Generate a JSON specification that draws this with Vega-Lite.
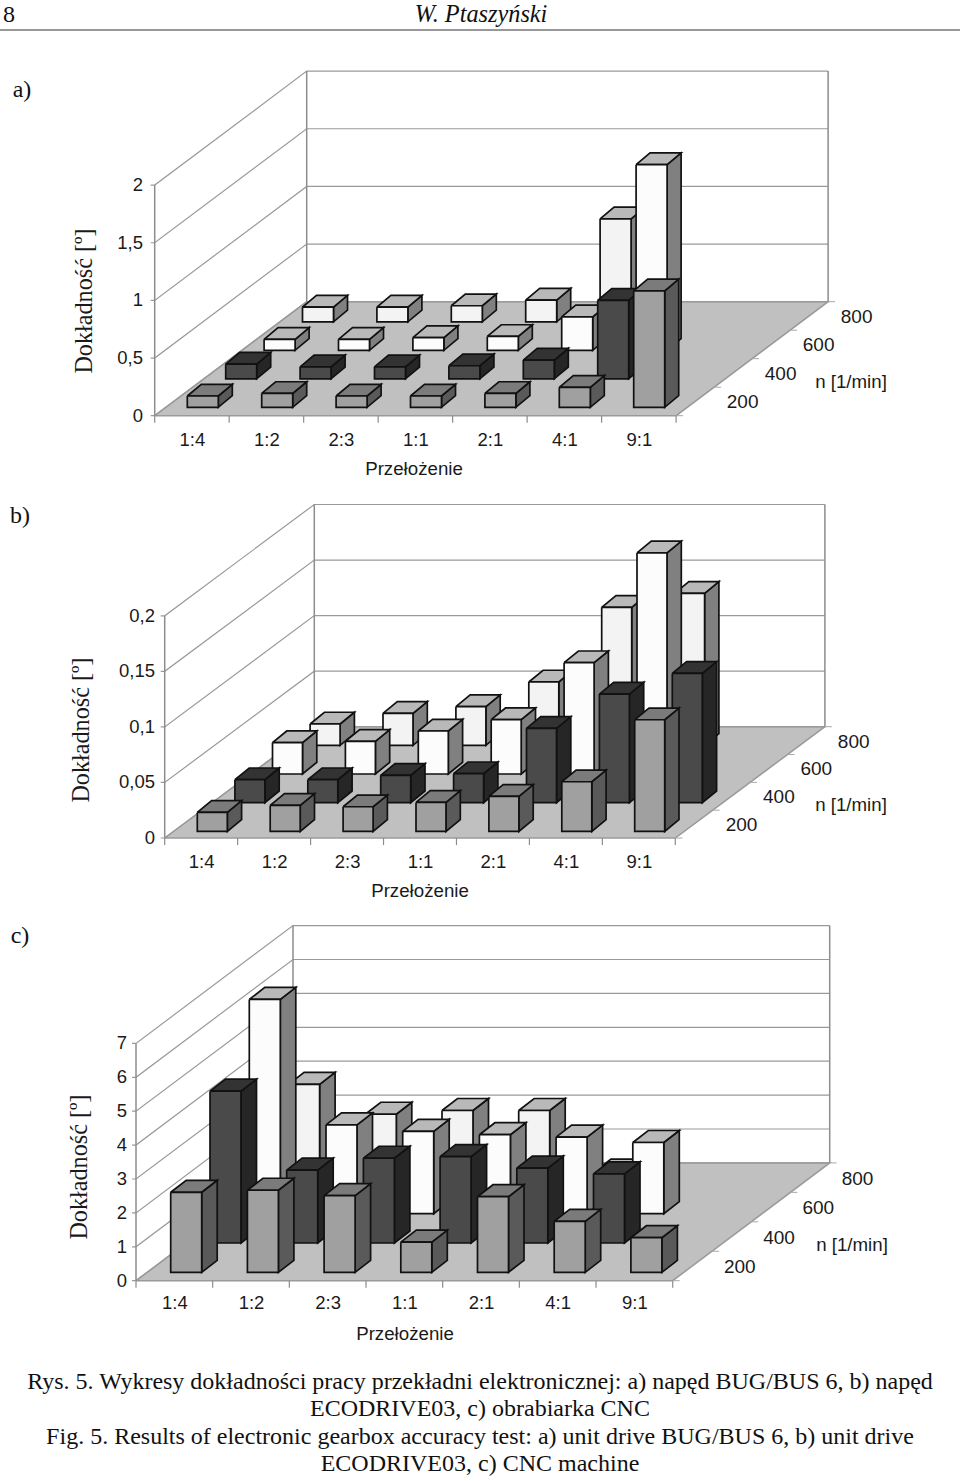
{"$schema":"https://vega.github.io/schema/vega-lite/v6.json","width":960,"height":1481,"padding":0,"autosize":{"type":"none"},"background":"white","config":{"view":{"stroke":null}},
"params":[
{"name":"RATIOS","value":["1:4","1:2","2:3","1:1","2:1","4:1","9:1"]},
{"name":"NS","value":[200,400,600,800]},
{"name":"G","value":{
"a":{"ox":154.7,"oy":415.7,"W":521.4,"Dx":152,"Dy":114,"s":115.3,"top":2,"bx":187.3,"by":407.3,"sx":74.4,"rx":38.4,"ry":28.5,"w":31,"dx":14,"dy":11.7,"xdy":24.5,"ylab":143},
"b":{"ox":164.7,"oy":838,"W":510.6,"Dx":149.6,"Dy":111.3,"s":1111,"top":0.2,"bx":197.3,"by":831.4,"sx":72.9,"rx":37.6,"ry":28.7,"w":30,"dx":14.3,"dy":11.7,"xdy":24,"ylab":155},
"c":{"ox":136,"oy":1280.7,"W":536.7,"Dx":157,"Dy":117.8,"s":33.9,"top":7,"bx":170.7,"by":1272.3,"sx":76.7,"rx":39.3,"ry":29.3,"w":31,"dx":15.5,"dy":12,"xdy":22,"ylab":127}}},
{"name":"L","value":{"page":[9,15],"head":[481,15],"tagA":[22,90],"tagB":[20,516],"tagC":[20,936],
"cap0":[480,1382],"cap1":[480,1409],"cap2":[480,1437],"cap3":[480,1464],
"xtA":[414,469],"xtB":[420,891],"xtC":[405,1334],"nA":[851,382],"nB":[851,805],"nC":[852,1245],
"yA":[85,301],"yB":[82,730],"yC":[80,1167],"r0":[0,30],"r1":[960,30]}}
],
"datasets":{
"panels":[{"panel":"a"},{"panel":"b"},{"panel":"c"}],
"rulehead":[{"key":"r0"},{"key":"r1"}],
"bars":[
{"panel":"a","ratio":"1:4","n":800,"value":0.127},{"panel":"a","ratio":"1:2","n":800,"value":0.127},{"panel":"a","ratio":"2:3","n":800,"value":0.139},{"panel":"a","ratio":"1:1","n":800,"value":0.188},{"panel":"a","ratio":"2:1","n":800,"value":0.893},
{"panel":"a","ratio":"1:4","n":600,"value":0.095},{"panel":"a","ratio":"1:2","n":600,"value":0.095},{"panel":"a","ratio":"2:3","n":600,"value":0.11},{"panel":"a","ratio":"1:1","n":600,"value":0.12},{"panel":"a","ratio":"2:1","n":600,"value":0.29},{"panel":"a","ratio":"4:1","n":600,"value":1.61},
{"panel":"a","ratio":"1:4","n":400,"value":0.127},{"panel":"a","ratio":"1:2","n":400,"value":0.104},{"panel":"a","ratio":"2:3","n":400,"value":0.104},{"panel":"a","ratio":"1:1","n":400,"value":0.113},{"panel":"a","ratio":"2:1","n":400,"value":0.162},{"panel":"a","ratio":"4:1","n":400,"value":0.68},
{"panel":"a","ratio":"1:4","n":200,"value":0.098},{"panel":"a","ratio":"1:2","n":200,"value":0.12},{"panel":"a","ratio":"2:3","n":200,"value":0.098},{"panel":"a","ratio":"1:1","n":200,"value":0.098},{"panel":"a","ratio":"2:1","n":200,"value":0.12},{"panel":"a","ratio":"4:1","n":200,"value":0.173},{"panel":"a","ratio":"9:1","n":200,"value":1.01},
{"panel":"b","ratio":"1:4","n":800,"value":0.0192},{"panel":"b","ratio":"1:2","n":800,"value":0.0288},{"panel":"b","ratio":"2:3","n":800,"value":0.0348},{"panel":"b","ratio":"1:1","n":800,"value":0.057},{"panel":"b","ratio":"2:1","n":800,"value":0.1242},{"panel":"b","ratio":"4:1","n":800,"value":0.1368},
{"panel":"b","ratio":"1:4","n":600,"value":0.0282},{"panel":"b","ratio":"1:2","n":600,"value":0.0294},{"panel":"b","ratio":"2:3","n":600,"value":0.0387},{"panel":"b","ratio":"1:1","n":600,"value":0.0489},{"panel":"b","ratio":"2:1","n":600,"value":0.1002},{"panel":"b","ratio":"4:1","n":600,"value":0.199},
{"panel":"b","ratio":"1:4","n":400,"value":0.0207},{"panel":"b","ratio":"1:2","n":400,"value":0.0207},{"panel":"b","ratio":"2:3","n":400,"value":0.0246},{"panel":"b","ratio":"1:1","n":400,"value":0.0261},{"panel":"b","ratio":"2:1","n":400,"value":0.0669},{"panel":"b","ratio":"4:1","n":400,"value":0.0978},{"panel":"b","ratio":"9:1","n":400,"value":0.1164},
{"panel":"b","ratio":"1:4","n":200,"value":0.0171},{"panel":"b","ratio":"1:2","n":200,"value":0.0234},{"panel":"b","ratio":"2:3","n":200,"value":0.0222},{"panel":"b","ratio":"1:1","n":200,"value":0.0261},{"panel":"b","ratio":"2:1","n":200,"value":0.0315},{"panel":"b","ratio":"4:1","n":200,"value":0.0447},{"panel":"b","ratio":"9:1","n":200,"value":0.1005},
{"panel":"c","ratio":"1:4","n":800,"value":2.95},{"panel":"c","ratio":"1:2","n":800,"value":2.07},{"panel":"c","ratio":"2:3","n":800,"value":2.18},{"panel":"c","ratio":"1:1","n":800,"value":2.18},{"panel":"c","ratio":"2:1","n":800,"value":0.39},
{"panel":"c","ratio":"1:4","n":600,"value":6.32},{"panel":"c","ratio":"1:2","n":600,"value":2.62},{"panel":"c","ratio":"2:3","n":600,"value":2.43},{"panel":"c","ratio":"1:1","n":600,"value":2.33},{"panel":"c","ratio":"2:1","n":600,"value":2.26},{"panel":"c","ratio":"4:1","n":600,"value":2.1},
{"panel":"c","ratio":"1:4","n":400,"value":4.48},{"panel":"c","ratio":"1:2","n":400,"value":2.15},{"panel":"c","ratio":"2:3","n":400,"value":2.5},{"panel":"c","ratio":"1:1","n":400,"value":2.55},{"panel":"c","ratio":"2:1","n":400,"value":2.21},{"panel":"c","ratio":"4:1","n":400,"value":2.04},
{"panel":"c","ratio":"1:4","n":200,"value":2.36},{"panel":"c","ratio":"1:2","n":200,"value":2.42},{"panel":"c","ratio":"2:3","n":200,"value":2.26},{"panel":"c","ratio":"1:1","n":200,"value":0.89},{"panel":"c","ratio":"2:1","n":200,"value":2.23},{"panel":"c","ratio":"4:1","n":200,"value":1.5},{"panel":"c","ratio":"9:1","n":200,"value":1.02}
],
"yticks":[
{"panel":"a","v":0,"label":"0"},{"panel":"a","v":0.5,"label":"0,5"},{"panel":"a","v":1,"label":"1"},{"panel":"a","v":1.5,"label":"1,5"},{"panel":"a","v":2,"label":"2"},
{"panel":"b","v":0,"label":"0"},{"panel":"b","v":0.05,"label":"0,05"},{"panel":"b","v":0.1,"label":"0,1"},{"panel":"b","v":0.15,"label":"0,15"},{"panel":"b","v":0.2,"label":"0,2"},
{"panel":"c","v":0,"label":"0"},{"panel":"c","v":1,"label":"1"},{"panel":"c","v":2,"label":"2"},{"panel":"c","v":3,"label":"3"},{"panel":"c","v":4,"label":"4"},{"panel":"c","v":5,"label":"5"},{"panel":"c","v":6,"label":"6"},{"panel":"c","v":7,"label":"7"}
],
"texts":[
{"key":"cap0","text":"Rys. 5. Wykresy dokładności pracy przekładni elektronicznej: a) napęd BUG/BUS 6, b) napęd"},
{"key":"cap1","text":"ECODRIVE03, c) obrabiarka CNC"},
{"key":"cap2","text":"Fig. 5. Results of electronic gearbox accuracy test: a) unit drive BUG/BUS 6, b) unit drive"},
{"key":"cap3","text":"ECODRIVE03, c) CNC machine"},
{"key":"tagA","text":"a)"},{"key":"tagB","text":"b)"},{"key":"tagC","text":"c)"},
{"key":"page","text":"8"}
],
"sans":[
{"key":"xtA","text":"Przełożenie"},{"key":"xtB","text":"Przełożenie"},{"key":"xtC","text":"Przełożenie"},
{"key":"nA","text":"n [1/min]"},{"key":"nB","text":"n [1/min]"},{"key":"nC","text":"n [1/min]"}
],
"rot":[{"key":"yA","text":"Dokładność [º]"},{"key":"yB","text":"Dokładność [º]"},{"key":"yC","text":"Dokładność [º]"}],
"head":[{"key":"head","text":"W. Ptaszyński"}]
},
"encoding":{
"x":{"field":"px","type":"quantitative","scale":{"domain":[0,960],"nice":false,"zero":false},"axis":null},
"y":{"field":"py","type":"quantitative","scale":{"domain":[1481,0],"nice":false,"zero":false},"axis":null}
},
"layer":[
{"data":{"name":"panels"},"transform":[
{"calculate":"G[datum.panel]","as":"g"},{"calculate":"[0,1,2,3,4]","as":"k"},{"flatten":["k"]},
{"calculate":"[datum.g.ox,datum.g.ox+datum.g.W,datum.g.ox+datum.g.W+datum.g.Dx,datum.g.ox+datum.g.Dx,datum.g.ox][datum.k]","as":"px"},
{"calculate":"[datum.g.oy,datum.g.oy,datum.g.oy-datum.g.Dy,datum.g.oy-datum.g.Dy,datum.g.oy][datum.k]","as":"py"}],
"mark":{"type":"line","fill":"#c0c0c0","stroke":"#9a9a9a","strokeWidth":1.5},
"encoding":{"detail":{"field":"panel"},"order":{"field":"k","type":"quantitative"}}},
{"data":{"name":"yticks"},"transform":[
{"calculate":"G[datum.panel]","as":"g"},{"calculate":"datum.g.oy-datum.v*datum.g.s","as":"y0"},{"calculate":"[0,1,2,3]","as":"k"},{"flatten":["k"]},
{"calculate":"[datum.g.ox-4,datum.g.ox,datum.g.ox+datum.g.Dx,datum.g.ox+datum.g.Dx+datum.g.W][datum.k]","as":"px"},
{"calculate":"[datum.y0,datum.y0,datum.y0-datum.g.Dy,datum.y0-datum.g.Dy][datum.k]","as":"py"},
{"calculate":"datum.panel+datum.v","as":"id"}],
"mark":{"type":"line","stroke":"#9a9a9a","strokeWidth":1.2},
"encoding":{"detail":{"field":"id"},"order":{"field":"k","type":"quantitative"}}},
{"data":{"name":"panels"},"transform":[
{"calculate":"G[datum.panel]","as":"g"},{"calculate":"[0,1,2,3,4,5]","as":"k"},{"flatten":["k"]},
{"calculate":"datum.panel+floor(datum.k/2)","as":"id"},
{"calculate":"[datum.g.ox,datum.g.ox,datum.g.ox+datum.g.Dx,datum.g.ox+datum.g.Dx,datum.g.ox+datum.g.Dx+datum.g.W,datum.g.ox+datum.g.Dx+datum.g.W][datum.k]","as":"px"},
{"calculate":"[datum.g.oy,datum.g.oy-datum.g.top*datum.g.s,datum.g.oy-datum.g.Dy,datum.g.oy-datum.g.Dy-datum.g.top*datum.g.s,datum.g.oy-datum.g.Dy,datum.g.oy-datum.g.Dy-datum.g.top*datum.g.s][datum.k]","as":"py"}],
"mark":{"type":"line","stroke":"#8c8c8c","strokeWidth":1.5},
"encoding":{"detail":{"field":"id"},"order":{"field":"k","type":"quantitative"}}},
{"data":{"name":"panels"},"transform":[
{"calculate":"G[datum.panel]","as":"g"},{"calculate":"[0,1,2,3,4,5,6,7]","as":"b"},{"flatten":["b"]},{"calculate":"[0,1]","as":"k"},{"flatten":["k"]},
{"calculate":"datum.panel+datum.b","as":"id"},
{"calculate":"datum.g.ox+datum.b*datum.g.W/7","as":"px"},
{"calculate":"datum.g.oy+datum.k*7","as":"py"}],
"mark":{"type":"line","stroke":"#8c8c8c","strokeWidth":1.2},
"encoding":{"detail":{"field":"id"},"order":{"field":"k","type":"quantitative"}}},
{"data":{"name":"panels"},"transform":[
{"calculate":"G[datum.panel]","as":"g"},{"calculate":"[0,1,2,3,4]","as":"b"},{"flatten":["b"]},{"calculate":"[0,1]","as":"k"},{"flatten":["k"]},
{"calculate":"datum.panel+datum.b","as":"id"},
{"calculate":"datum.g.ox+datum.g.W+datum.b*datum.g.Dx/4+datum.k*7","as":"px"},
{"calculate":"datum.g.oy-datum.b*datum.g.Dy/4","as":"py"}],
"mark":{"type":"line","stroke":"#a8a8a8","strokeWidth":1},
"encoding":{"detail":{"field":"id"},"order":{"field":"k","type":"quantitative"}}},
{"data":{"name":"bars"},"transform":[
{"calculate":"G[datum.panel]","as":"g"},
{"calculate":"indexof(RATIOS,datum.ratio)","as":"i"},{"calculate":"indexof(NS,datum.n)","as":"j"},
{"calculate":"datum.g.bx+datum.i*datum.g.sx+datum.j*datum.g.rx","as":"x0"},
{"calculate":"datum.g.by-datum.j*datum.g.ry","as":"b0"},
{"calculate":"datum.b0-datum.value*datum.g.s","as":"t0"},
{"calculate":"datum.x0+datum.g.w","as":"x1"},
{"calculate":"datum.x1+datum.g.dx","as":"x2"},
{"calculate":"datum.x0+datum.g.dx","as":"x3"},
{"calculate":"datum.t0-datum.g.dy","as":"t1"},
{"calculate":"datum.b0-datum.g.dy","as":"b1"},
{"calculate":"[0,1,2,3,4,5,6,7,8,9,10,11,12,13,14]","as":"k"},{"flatten":["k"]},
{"calculate":"['side','top','front'][floor(datum.k/5)]","as":"face"},
{"calculate":"datum.panel+'_'+datum.ratio+'_'+datum.n+'_'+datum.face","as":"id"},
{"calculate":"datum.n+'_'+datum.face","as":"shade"},
{"calculate":"[datum.x1,datum.x2,datum.x2,datum.x1,datum.x1, datum.x0,datum.x1,datum.x2,datum.x3,datum.x0, datum.x0,datum.x1,datum.x1,datum.x0,datum.x0][datum.k]","as":"px"},
{"calculate":"[datum.t0,datum.t1,datum.b1,datum.b0,datum.t0, datum.t0,datum.t0,datum.t1,datum.t1,datum.t0, datum.t0,datum.t0,datum.b0,datum.b0,datum.t0][datum.k]","as":"py"}],
"mark":{"type":"line","stroke":"#111111","strokeWidth":1.7,"strokeJoin":"miter"},
"encoding":{"detail":{"field":"id"},"order":{"field":"k","type":"quantitative"},
"fill":{"field":"shade","type":"nominal","legend":null,"scale":{
"domain":["200_front","200_top","200_side","400_front","400_top","400_side","600_front","600_top","600_side","800_front","800_top","800_side"],
"range":["#a0a0a0","#7b7b7b","#5a5a5a","#4a4a4a","#333333","#262626","#fcfcfc","#b9b9b9","#808080","#f3f3f3","#b9b9b9","#808080"]}}}},
{"data":{"name":"yticks"},"transform":[{"calculate":"G[datum.panel]","as":"g"},{"calculate":"datum.g.ylab","as":"px"},{"calculate":"datum.g.oy-datum.v*datum.g.s","as":"py"}],
"mark":{"type":"text","font":"Liberation Sans","fontSize":18.5,"align":"right","baseline":"middle","fill":"#1a1a1a"},"encoding":{"text":{"field":"label"}}},
{"data":{"name":"panels"},"transform":[{"calculate":"G[datum.panel]","as":"g"},{"calculate":"[0,1,2,3,4,5,6]","as":"i"},{"flatten":["i"]},{"calculate":"RATIOS[datum.i]","as":"label"},
{"calculate":"datum.g.ox+(datum.i+0.5)*datum.g.W/7+0.5","as":"px"},{"calculate":"datum.g.oy+datum.g.xdy","as":"py"}],
"mark":{"type":"text","font":"Liberation Sans","fontSize":18.5,"align":"center","baseline":"middle","fill":"#1a1a1a"},"encoding":{"text":{"field":"label"}}},
{"data":{"name":"panels"},"transform":[{"calculate":"G[datum.panel]","as":"g"},{"calculate":"[0,1,2,3]","as":"j"},{"flatten":["j"]},{"calculate":"''+NS[datum.j]","as":"label"},
{"calculate":"datum.g.ox+datum.g.W+(datum.j+0.5)*datum.g.Dx/4+47.5","as":"px"},{"calculate":"datum.g.oy-(datum.j+0.5)*datum.g.Dy/4+1","as":"py"}],
"mark":{"type":"text","font":"Liberation Sans","fontSize":19,"align":"center","baseline":"middle","fill":"#1a1a1a"},"encoding":{"text":{"field":"label"}}},
{"data":{"name":"sans"},"transform":[{"calculate":"L[datum.key][0]","as":"px"},{"calculate":"L[datum.key][1]","as":"py"}],
"mark":{"type":"text","font":"Liberation Sans","fontSize":18.7,"align":"center","baseline":"middle","fill":"#1a1a1a"},"encoding":{"text":{"field":"text"}}},
{"data":{"name":"rot"},"transform":[{"calculate":"L[datum.key][0]","as":"px"},{"calculate":"L[datum.key][1]","as":"py"}],
"mark":{"type":"text","font":"Liberation Serif","fontSize":24.2,"angle":270,"align":"center","baseline":"middle","fill":"#1a1a1a"},"encoding":{"text":{"field":"text"}}},
{"data":{"name":"texts"},"transform":[{"calculate":"L[datum.key][0]","as":"px"},{"calculate":"L[datum.key][1]","as":"py"}],
"mark":{"type":"text","font":"Liberation Serif","fontSize":24,"align":"center","baseline":"middle","fill":"#111111"},"encoding":{"text":{"field":"text"}}},
{"data":{"name":"head"},"transform":[{"calculate":"L[datum.key][0]","as":"px"},{"calculate":"L[datum.key][1]","as":"py"}],
"mark":{"type":"text","font":"Liberation Serif","fontStyle":"italic","fontSize":24.3,"align":"center","baseline":"middle","fill":"#111111"},"encoding":{"text":{"field":"text"}}},
{"data":{"name":"rulehead"},"transform":[{"calculate":"L[datum.key][0]","as":"px"},{"calculate":"L[datum.key][1]","as":"py"}],
"mark":{"type":"line","stroke":"#333333","strokeWidth":1.2},"encoding":{}}
]}
